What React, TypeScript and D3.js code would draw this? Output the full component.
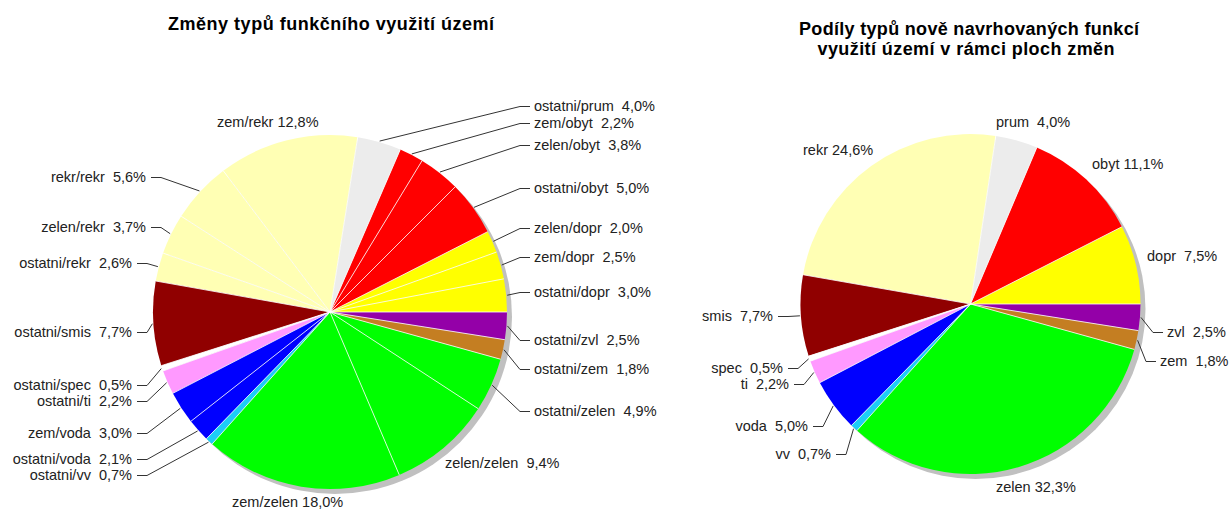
import React from 'react';
import * as d3 from 'd3';

// left pie: changes "from/to" (counter-clockwise from 3 o'clock)
const leftNames = [
  'ostatni/dopr', 'zem/dopr', 'zelen/dopr', 'ostatni/obyt', 'zelen/obyt', 'zem/obyt',
  'ostatni/prum', 'zem/rekr', 'rekr/rekr', 'zelen/rekr', 'ostatni/rekr', 'ostatni/smis',
  'ostatni/spec', 'ostatni/ti', 'zem/voda', 'ostatni/voda', 'ostatni/vv', 'zem/zelen',
  'zelen/zelen', 'ostatni/zelen', 'ostatni/zem', 'ostatni/zvl',
];
const leftValues = [
  3.0, 2.5, 2.0, 5.0, 3.8, 2.2, 4.0, 12.8, 5.6, 3.7, 2.6, 7.7,
  0.5, 2.2, 3.0, 2.1, 0.7, 18.0, 9.4, 4.9, 1.8, 2.5,
];

// right pie: new function types
const rightNames = ['dopr', 'obyt', 'prum', 'rekr', 'smis', 'spec', 'ti', 'voda', 'vv', 'zelen', 'zem', 'zvl'];
const rightValues = [7.5, 11.1, 4.0, 24.6, 7.7, 0.5, 2.2, 5.0, 0.7, 32.3, 1.8, 2.5];

const typeColors: Record<string, string> = {
  dopr: '#ffff00',
  obyt: '#ff0000',
  prum: '#ececec',
  rekr: '#ffffb4',
  smis: '#900000',
  spec: '#ffffff',
  ti: '#ff99ff',
  voda: '#0000ff',
  vv: '#1ccdf7',
  zelen: '#00ff00',
  zem: '#c47e22',
  zvl: '#9400a8',
};

// label placement: [x, baseline, anchor, has leader line]
type Lbl = [number, number, 'start' | 'end', boolean];
const leftLabels: Lbl[] = [
  [534, 297, 'start', true], [534, 262, 'start', true], [534, 233, 'start', true],
  [534, 193, 'start', true], [534, 150, 'start', true], [534, 128, 'start', true],
  [534, 111, 'start', true], [217, 127, 'start', false], [146, 182, 'end', true],
  [146, 232, 'end', true], [132, 268, 'end', true], [132, 337, 'end', true],
  [132, 390, 'end', true], [132, 406, 'end', true], [132, 438, 'end', true],
  [132, 464, 'end', true], [132, 480, 'end', true], [232, 507, 'start', false],
  [445, 468, 'start', false], [534, 416, 'start', true], [534, 374, 'start', true],
  [534, 345, 'start', true],
];
const rightLabels: Lbl[] = [
  [1147, 261, 'start', false], [1092, 169, 'start', false], [996, 127, 'start', false],
  [803, 155, 'start', false], [773, 321, 'end', true], [783, 373, 'end', true],
  [789, 389, 'end', true], [808, 431, 'end', true], [831, 459, 'end', true],
  [996, 492, 'start', false], [1160, 366, 'start', true], [1167, 337, 'start', true],
];

const FONT = '"Liberation Sans", Arial, sans-serif';
const fmt = (v: number) => (v.toFixed(1).replace('.', ',')).padStart(4, ' ') + '%';

function Pie({ cx, cy, r, names, values, types, labels }: {
  cx: number; cy: number; r: number; names: string[]; values: number[];
  types: string[]; labels: Lbl[];
}) {
  const pie = d3.pie<number>().sort(null).startAngle(Math.PI / 2).endAngle(Math.PI / 2 - 2 * Math.PI);
  const arcs = pie(values);
  const arc = d3.arc<d3.PieArcDatum<number>>().innerRadius(0).outerRadius(r);
  const pt = (a: number, rr: number): [number, number] => [cx + Math.sin(a) * rr, cy - Math.cos(a) * rr];
  const line = d3.line();

  return (
    <g>
      <circle cx={cx + 5} cy={cy + 5} r={r} fill="#c0c0c0" />
      <g transform={`translate(${cx},${cy})`}>
        {arcs.map((d, i) => (
          <path key={i} d={arc(d) || ''} fill={typeColors[types[i]]} />
        ))}
      </g>
      {arcs.map((d, i) => {
        const [x2, y2] = pt(d.startAngle, r);
        return <line key={'s' + i} x1={cx} y1={cy} x2={x2} y2={y2} stroke="#fff" strokeWidth={0.8} />;
      })}
      {arcs.map((d, i) => {
        const [lx, ly, anchor, leader] = labels[i];
        const mid = (d.startAngle + d.endAngle) / 2;
        const ey = ly - 4.5;
        const pts: [number, number][] = anchor === 'start'
          ? [pt(mid, r + 1), [lx - 14, ey], [lx - 4, ey]]
          : [pt(mid, r + 1), [lx + 15, ey], [lx + 5, ey]];
        return (
          <g key={'l' + i}>
            {leader && <path d={line(pts) || ''} fill="none" stroke="#333" strokeWidth={1} />}
            <text x={lx} y={ly} textAnchor={anchor} fontSize={14.5} fill="#222"
              style={{ whiteSpace: 'pre' }}>
              {names[i] + ' ' + fmt(values[i])}
            </text>
          </g>
        );
      })}
    </g>
  );
}

export default function App() {
  return (
    <svg width={1231} height={509} style={{ position: 'absolute', left: 0, top: 0, background: '#fff' }}
      fontFamily={FONT}>
      <rect width={1231} height={509} fill="#fff" />
      <text x={331} y={30} textAnchor="middle" fontSize={18} fontWeight="bold" textLength={326}
        lengthAdjust="spacing" fill="#000">
        Změny typů funkčního využití území
      </text>
      <text x={969} y={35} textAnchor="middle" fontSize={18} fontWeight="bold" textLength={340}
        lengthAdjust="spacing" fill="#000">
        Podíly typů nově navrhovaných funkcí
      </text>
      <text x={966} y={55} textAnchor="middle" fontSize={18} fontWeight="bold" textLength={297}
        lengthAdjust="spacing" fill="#000">
        využití území v rámci ploch změn
      </text>
      <Pie cx={330} cy={312} r={177} names={leftNames} values={leftValues}
        types={leftNames.map((n) => n.split('/')[1])} labels={leftLabels} />
      <Pie cx={970.5} cy={304} r={170} names={rightNames} values={rightValues}
        types={rightNames} labels={rightLabels} />
    </svg>
  );
}
